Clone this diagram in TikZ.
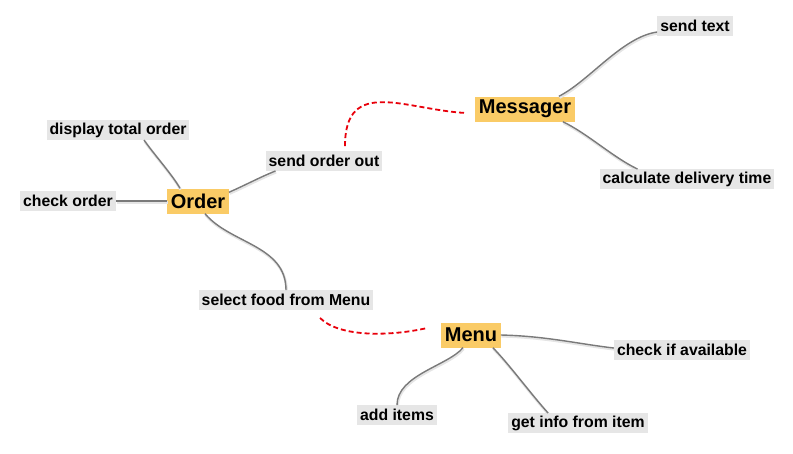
\documentclass[tikz,border=0pt]{standalone}
\usepackage{fontspec}
\setmainfont{Liberation Sans}
\usetikzlibrary{positioning,calc}
\definecolor{MapGold}{HTML}{FACB66}
\definecolor{MapGrey}{HTML}{E6E6E6}
\definecolor{LinkGrey}{HTML}{7A7A7A}
\definecolor{LinkRed}{HTML}{E8000B}
\begin{document}
\begin{tikzpicture}[
  x=1pt, y=1pt,
  topic/.style={rectangle, fill=MapGold, inner xsep=3.5pt, inner ysep=0pt, minimum height=25pt, font=\bfseries\fontsize{20}{22}\selectfont},
  leaf/.style={rectangle, fill=MapGrey, inner xsep=3pt, inner ysep=0pt, minimum height=19.5pt, font=\bfseries\fontsize{15.8}{18}\selectfont},
  link/.style={draw=LinkGrey, line width=1.4pt, preaction={draw=black!10, line width=2.6pt, transform canvas={shift={(0.6pt,-1.3pt)}}}},
  xlink/.style={draw=LinkRed, line width=1.8pt, dash pattern=on 5pt off 3pt}
]
\useasboundingbox (0,0) rectangle (793,-453);

% central topics
\node[topic] (ord)  at (198,-201) {Order};
\node[topic] (mes)  at (525,-109) {Messager};
\node[topic] (menu) at (471,-335) {Menu};

% leaves of Order
\node[leaf] (disp)  at (118,-130) {display total order};
\node[leaf] (chk)   at (68,-201)  {check order};
\node[leaf] (sendo) at (324,-161) {send order out};
\node[leaf] (food)  at (286,-300) {select food from Menu};

% leaves of Messager
\node[leaf] (stxt) at (695,-26)  {send text};
\node[leaf] (calc) at (687,-179) {calculate delivery time};

% leaves of Menu
\node[leaf] (avail) at (682,-350) {check if available};
\node[leaf] (add)   at (397,-415) {add items};
\node[leaf] (info)  at (578,-423) {get info from item};

% branches
\draw[link] ([xshift=-18pt]ord.north) .. controls +(-8,14) and +(8,-12) .. ([xshift=26pt]disp.south);
\draw[link] (chk.east) -- (ord.west);
\draw[link] ([yshift=-4pt]ord.north east) .. controls +(18,8) and +(-15,-6) .. ([xshift=10pt]sendo.south west);
\draw[link] ([xshift=7pt]ord.south) .. controls +(25,-30) and +(0,45) .. (food.north);
\draw[link] ([xshift=-16pt]mes.north east) .. controls +(30,15) and +(-35,-5) .. ([yshift=-6pt]stxt.west);
\draw[link] ([xshift=-12pt]mes.south east) .. controls +(25,-12) and +(-25,12) .. ([xshift=38pt]calc.north west);
\draw[link] (menu.east) .. controls +(45,-1) and +(-35,4) .. ([yshift=2pt]avail.west);
\draw[link] ([xshift=-8pt]menu.south) .. controls +(-15,-18) and +(0,30) .. (add.north);
\draw[link] ([xshift=-8pt]menu.south east) .. controls +(15,-15) and +(-18,20) .. ([xshift=40pt]info.north west);

% cross links
\draw[xlink] ([xshift=21pt,yshift=5pt]sendo.north) .. controls +(0,70) and +(-60,3) .. ([xshift=-9pt,yshift=-4pt]mes.west);
\draw[xlink] ([xshift=34pt,yshift=-8pt]food.south) .. controls +(20,-20) and +(-35,-8) .. ([xshift=-14pt,yshift=7pt]menu.west);
\end{tikzpicture}
\end{document}
